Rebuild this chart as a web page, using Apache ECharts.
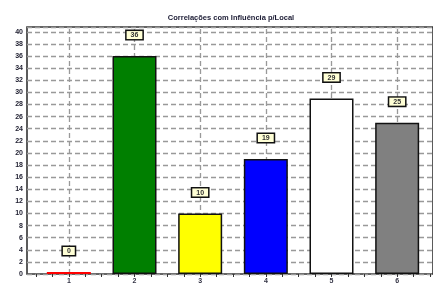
<!DOCTYPE html>
<html>
<head>
  <meta charset="UTF-8">
  <title>Correlações com Influência p/Local</title>
  <style>
    body { margin: 0; background: #fff; }
    #main { width: 433px; height: 285px; }
  </style>
</head>
<body>
  <div id="main"></div>
  <script src="https://cdn.jsdelivr.net/npm/echarts@6/dist/echarts.min.js"></script>
  <script>
    const categories = [1, 2, 3, 4, 5, 6];
    const values = [0, 36, 10, 19, 29, 25];
    const barColors = ['#ff0000', '#007f00', '#ffff00', '#0000ff', '#ffffff', '#808080'];

    const yMax = 40.8;
    const font = 'Liberation Sans';

    const chart = echarts.init(document.getElementById('main'));

    chart.setOption({
      animation: false,
      title: {
        text: 'Correlações com Influência p/Local',
        left: 226,
        top: 9,
        textAlign: 'center',
        textStyle: { fontSize: 7.5, fontWeight: 'bold', color: '#1a1a33', fontFamily: font }
      },
      grid: [
        // backdrop grid: frame, y labels and horizontal dashed lines
        { left: 27, right: -3, top: 27, bottom: 11, show: true, borderColor: '#333', borderWidth: 1.6 },
        // bar grid, offset so that category 1 sits where the original puts it
        { left: 36, right: 0, top: 27, bottom: 11 }
      ],
      xAxis: [
        { gridIndex: 0, type: 'value', min: 0, max: 1, show: false },
        {
          gridIndex: 1, type: 'value', min: 0.5, max: 6.5, interval: 0.25,
          axisLine: { show: false },
          axisTick: { show: true, inside: false, length: 3, lineStyle: { color: '#333', width: 1 } },
          axisLabel: {
            fontSize: 7, fontWeight: 'bold', color: '#334', fontFamily: font, margin: 4,
            formatter: v => (Number.isInteger(v) ? String(v) : '')
          },
          splitLine: { show: false }
        }
      ],
      yAxis: [
        {
          gridIndex: 0, type: 'value', min: 0, max: yMax, interval: 2,
          axisLine: { show: false },
          axisTick: { show: false },
          axisLabel: {
            fontSize: 7, fontWeight: 'bold', color: '#223', fontFamily: font, margin: 4,
            formatter: v => (v % 2 === 0 ? String(v) : '')
          },
          splitLine: { show: true, lineStyle: { color: '#999', type: [5, 3], width: 1.3 } }
        },
        { gridIndex: 1, type: 'value', min: 0, max: yMax, show: false, splitLine: { show: false } }
      ],
      series: [{
        type: 'bar',
        xAxisIndex: 1,
        yAxisIndex: 1,
        barWidth: 44,
        barMinHeight: 2,
        z: 3,
        data: categories.map((c, i) => ({
          value: [c, values[i]],
          itemStyle: {
            color: barColors[i],
            borderColor: '#111',
            borderWidth: values[i] === 0 ? 0 : 1.5
          }
        })),
        label: {
          show: true,
          position: 'top',
          distance: 17,
          formatter: p => String(p.value[1]),
          fontSize: 7,
          fontWeight: 'bold',
          color: '#333',
          fontFamily: font,
          backgroundColor: '#ffffd6',
          borderColor: '#111',
          borderWidth: 1.5,
          padding: [1, 4, 0, 4]
        },
        markLine: {
          silent: true,
          symbol: 'none',
          z: 1,
          label: { show: false },
          lineStyle: { color: '#999', type: [5, 3], width: 1.3 },
          data: categories.map(c => ({ xAxis: c }))
        }
      }]
    });
  </script>
</body>
</html>
